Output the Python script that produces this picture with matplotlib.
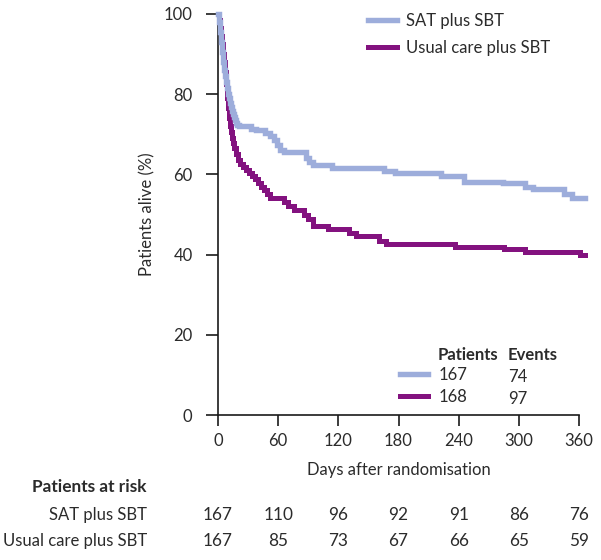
import matplotlib
matplotlib.use("Agg")
import matplotlib.pyplot as plt
from matplotlib.transforms import blended_transform_factory

plt.rcParams['font.family'] = ['Lato', 'DejaVu Sans']

# ---------------- data ----------------
sat_t = [0, 1, 2, 3, 4, 5, 6, 7, 8, 9, 10, 11, 12, 13, 14, 15, 16, 17, 18, 19, 21,
         33, 38, 47, 52, 56, 59, 62, 66, 88, 91, 95, 114, 166, 177, 222, 245, 284,
         306, 314, 345, 353, 366]
sat_s = [100, 98, 95.5, 93, 90.5, 88, 86, 84.5, 83, 81.5, 80, 79, 77.8, 76.8, 75.8, 75,
         74.2, 73.5, 72.9, 72.4, 72, 71.4, 71, 70.4, 69.7, 68.5, 67.4, 66.2, 65.5, 64,
         63.2, 62.4, 61.6, 60.8, 60.3, 59.7, 58.2, 57.8, 56.9, 56.3, 55, 54, 54]

usual_t = [0, 1, 2, 3, 4, 5, 6, 7, 8, 9, 10, 11, 12, 13, 14, 15, 16, 18, 20, 22, 25,
           28, 31, 34, 37, 40, 43, 46, 49, 52, 66, 70, 76, 86, 90, 95, 110, 131, 138,
           161, 168, 236, 285, 306, 361, 366]
usual_s = [100, 98.5, 96.5, 94.5, 92.5, 90, 88, 85.5, 82.5, 79, 76.5, 74, 72, 70.5, 69,
           67.8, 66.6, 65, 63.6, 62.6, 61.9, 61, 60.3, 59.7, 58.8, 57.8, 56.8, 56, 55.2,
           54.2, 53, 52, 51.2, 50, 48.8, 47.2, 46.5, 45.4, 44.6, 43.5, 42.6, 42, 41.3,
           40.7, 40, 40]

series_names = ["SAT plus SBT", "Usual care plus SBT"]
patients = [167, 168]
events = [74, 97]

risk_days = [0, 60, 120, 180, 240, 300, 360]
risk_sat = [167, 110, 96, 92, 91, 86, 76]
risk_usual = [167, 85, 73, 67, 66, 65, 59]

x_ticks = [0, 60, 120, 180, 240, 300, 360]
y_ticks = [0, 20, 40, 60, 80, 100]

# ---------------- style ----------------
BLUE = '#9DADDB'
PURPLE = '#83127F'
TXT = '#2b2b2b'
W, H = 601, 560
FS = 12

fig = plt.figure(figsize=(W / 100, H / 100), dpi=100)
fig.patch.set_facecolor('white')

def fx(px):
    return px / W

def fy(py):
    return 1 - py / H

ax = fig.add_axes([fx(218), fy(415), fx(579) - fx(218), fy(14) - fy(415)])

ax.step(usual_t, usual_s, where='post', color=PURPLE, lw=3.6, clip_on=False,
        zorder=3, solid_joinstyle='miter', label=series_names[1])
ax.step(sat_t, sat_s, where='post', color=BLUE, lw=3.9, clip_on=False,
        zorder=4, solid_joinstyle='miter', label=series_names[0])

ax.set_xlim(0, 360)
ax.set_ylim(0, 100)
ax.set_xticks(x_ticks)
ax.set_yticks(y_ticks)
for s in ['top', 'right']:
    ax.spines[s].set_visible(False)
for s in ['left', 'bottom']:
    ax.spines[s].set_linewidth(1.2)
    ax.spines[s].set_color('#1a1a1a')
ax.tick_params(axis='y', direction='out', length=8.3, width=1.2, pad=10,
               labelsize=FS, colors='#1a1a1a', labelcolor=TXT)
ax.tick_params(axis='x', direction='out', length=8, width=1.2, pad=5,
               labelsize=FS, colors='#1a1a1a', labelcolor=TXT)

ax.set_ylabel("Patients alive (%)", fontsize=FS, color=TXT, labelpad=6)
ax.set_xlabel("Days after randomisation", fontsize=FS, color=TXT, labelpad=9)

# main legend
h_sat = ax.lines[1]
h_usual = ax.lines[0]
leg = ax.legend([h_sat, h_usual], series_names, loc='upper left',
                bbox_to_anchor=(fx(368), fy(13)), bbox_transform=fig.transFigure,
                frameon=False, fontsize=FS, handlelength=1.75, handletextpad=0.55,
                labelspacing=0.65, borderpad=0, borderaxespad=0)
for t in leg.get_texts():
    t.set_color(TXT)

# inset patients / events table
leg2 = ax.legend([h_sat, h_usual], [str(p) for p in patients], loc='upper left',
                 bbox_to_anchor=(fx(400), fy(367)), bbox_transform=fig.transFigure,
                 frameon=False, fontsize=FS, handlelength=1.7, handletextpad=0.6,
                 labelspacing=0.35, borderpad=0, borderaxespad=0)
for t in leg2.get_texts():
    t.set_color(TXT)
ax.add_artist(leg)

fig.text(fx(438), fy(355), "Patients", fontsize=FS, fontweight='bold', color=TXT,
         ha='left', va='center')
fig.text(fx(508), fy(355), "Events", fontsize=FS, fontweight='bold', color=TXT,
         ha='left', va='center')
for i, e in enumerate(events):
    fig.text(fx(508), fy(377 + 22.5 * i), str(e), fontsize=FS, color=TXT,
             ha='left', va='center')

# patients at risk
fig.text(fx(147), fy(487), "Patients at risk", fontsize=12.4, fontweight='bold',
         color=TXT, ha='right', va='center')
fig.text(fx(147), fy(515), series_names[0], fontsize=FS, color=TXT, ha='right',
         va='center')
fig.text(fx(147), fy(541), series_names[1], fontsize=FS, color=TXT, ha='right',
         va='center')
tr = blended_transform_factory(ax.transData, fig.transFigure)
for d, a, b in zip(risk_days, risk_sat, risk_usual):
    ax.text(d, fy(515), str(a), transform=tr, fontsize=12.4, color=TXT,
            ha='center', va='center', clip_on=False)
    ax.text(d, fy(541), str(b), transform=tr, fontsize=12.4, color=TXT,
            ha='center', va='center', clip_on=False)

fig.savefig("out.png", dpi=100, facecolor='white')
